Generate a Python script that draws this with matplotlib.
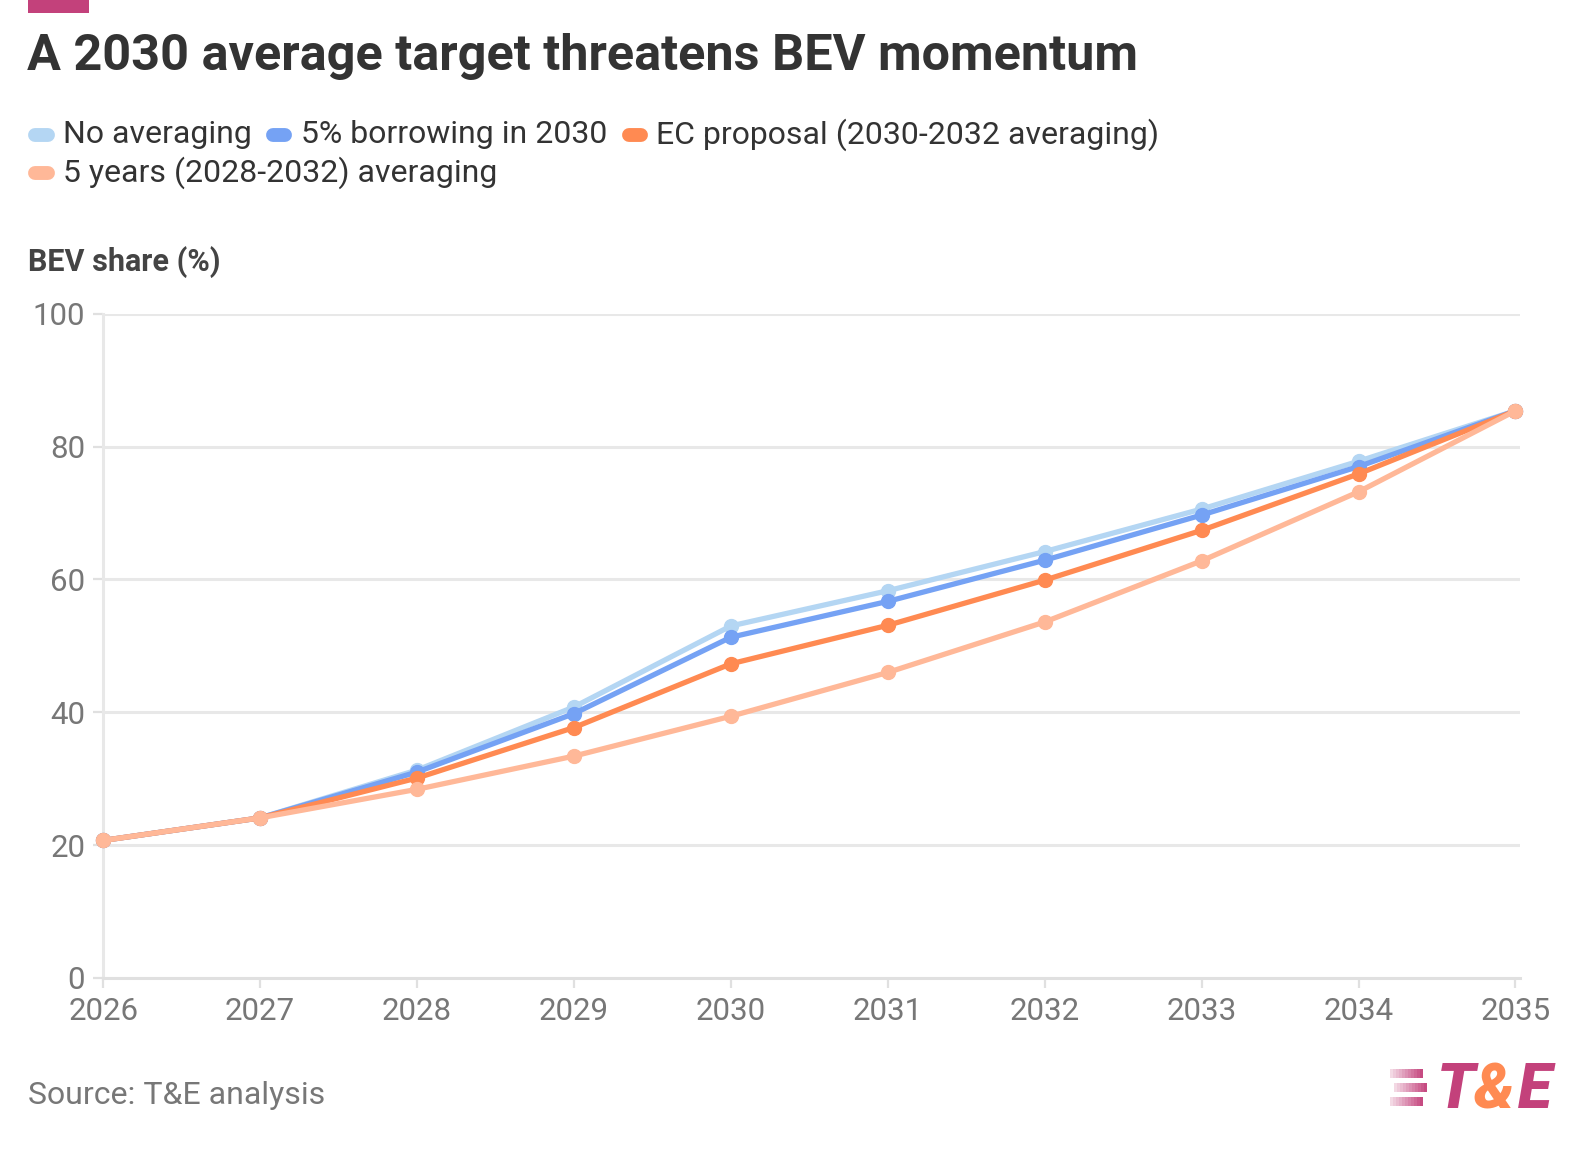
import numpy as np
import matplotlib
matplotlib.use("Agg")
import matplotlib.pyplot as plt
from matplotlib.lines import Line2D
from matplotlib.patches import Rectangle, Polygon


# ============================================================
# Data
# ============================================================
years = [2026, 2027, 2028, 2029, 2030, 2031, 2032, 2033, 2034, 2035]

no_averaging  = [20.7, 24.1, 31.3, 40.8, 53.0, 58.3, 64.2, 70.6, 77.8, 85.4]
borrowing_5pc = [20.7, 24.1, 31.0, 39.8, 51.3, 56.7, 62.9, 69.7, 77.0, 85.4]
ec_proposal   = [20.7, 24.1, 30.1, 37.7, 47.3, 53.1, 59.9, 67.4, 75.9, 85.4]
five_years    = [20.7, 24.1, 28.4, 33.4, 39.4, 46.0, 53.6, 62.8, 73.2, 85.4]

series_names = ["No averaging", "5% borrowing in 2030",
                "EC proposal (2030-2032 averaging)",
                "5 years (2028-2032) averaging"]
series_vals  = [no_averaging, borrowing_5pc, ec_proposal, five_years]
colors       = ["#b4d6f3", "#75a2f4", "#ff8a52", "#ffb898"]

y_ticks = [0, 20, 40, 60, 80, 100]


# ============================================================
# Figure
# ============================================================
plt.rcParams['font.family'] = ['Roboto', 'DejaVu Sans']
fig = plt.figure(figsize=(15.88, 11.5), dpi=100)

# layout measured on a preview of the reference ~1569 x 1136 px
PW, PH = 1569, 1136


def fx(px):
    return px / PW


def fy(py):
    return 1 - py / PH


ax = fig.add_axes([fx(102), fy(966), fx(1502) - fx(102), fy(310) - fy(966)])

for name, vals, c in zip(series_names, series_vals, colors):
    ax.plot(years, vals, color=c, lw=3.8, marker='o', ms=10,
            solid_capstyle='round', clip_on=False, zorder=3)

ax.set_xlim(2026, 2035.03)
ax.set_ylim(0, 100)
ax.set_xticks(years)
ax.set_yticks(y_ticks)
ax.set_xticklabels([str(y) for y in years])
ax.yaxis.grid(True, color="#e8e8e8", lw=2.2)
ax.set_axisbelow(True)
for s in ["top", "right"]:
    ax.spines[s].set_visible(False)
ax.spines["left"].set_color("#e8e8e8")
ax.spines["left"].set_linewidth(2.2)
ax.spines["bottom"].set_color("#e0e0e0")
ax.spines["bottom"].set_linewidth(2.2)
ax.tick_params(axis='both', colors="#e0e0e0", labelcolor="#777777",
               labelsize=22.5, length=7, width=1.6)
ax.tick_params(axis='x', pad=7)
ax.tick_params(axis='y', pad=6)

# ============================================================
# Titles, legend, source
# ============================================================
fig.add_artist(Rectangle((fx(28), fy(13)), fx(88) - fx(28), fy(0) - fy(13),
                         transform=fig.transFigure, color="#c3417b", lw=0))

fig.text(fx(27), fy(56), "A 2030 average target threatens BEV momentum",
         fontsize=36.3, fontweight='bold', color="#333333", va='center')

legend_pos = [(28, 133), (263, 133), (614, 133), (28, 171)]
for (x0, yc), name, c in zip(legend_pos, series_names, colors):
    fig.add_artist(Line2D([fx(x0 + 7), fx(x0 + 19)], [fy(yc), fy(yc)],
                          transform=fig.transFigure, color=c, lw=10,
                          solid_capstyle='round'))
    fig.text(fx(x0 + 34), fy(yc), name, fontsize=23, color="#333333",
             va='center', ha='left')

fig.text(fx(28), fy(259), "BEV share (%)", fontsize=22, fontweight='bold',
         color="#444444", va='center')

fig.text(fx(28), fy(1082), "Source: T&E analysis", fontsize=23,
         color="#777777", va='center')

# T&E logo
for yt, xl in [(1056, 1373), (1070, 1377), (1084, 1373)]:
    for k in range(11):
        a = 0.2 + 0.075 * k
        fig.add_artist(Polygon(
            [(fx(xl + 3 * k), fy(yt)), (fx(xl + 3 * k + 3), fy(yt)),
             (fx(xl + 3 * k + 3), fy(yt + 9)), (fx(xl + 3 * k), fy(yt + 9))],
            closed=True, transform=fig.transFigure, color="#c3417b",
            alpha=min(a, 1), lw=0))
fig.text(fx(1420), fy(1078), "T", fontsize=45, fontweight='black',
         style='italic', color="#c3417b", va='center')
fig.text(fx(1456), fy(1078), "&", fontsize=45, fontweight='black',
         style='italic', color="#ff8a52", va='center')
fig.text(fx(1500), fy(1078), "E", fontsize=45, fontweight='black',
         style='italic', color="#c3417b", va='center')

fig.savefig("out.png", dpi=100)
